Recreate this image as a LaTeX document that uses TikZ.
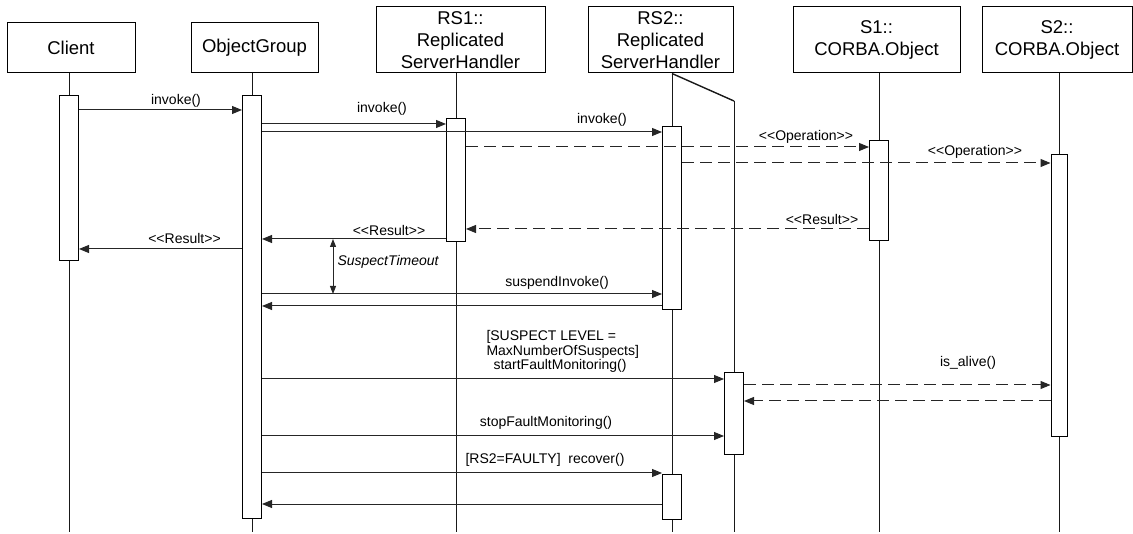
\documentclass[tikz,border=0pt]{standalone}
\usepackage{fontspec}
\setmainfont{Liberation Sans}
\usetikzlibrary{arrows.meta,backgrounds}

\newcommand{\stereo}[1]{<\kern0pt<#1>\kern0pt>}

\begin{document}
\begin{tikzpicture}[x=1pt,y=-1pt,line width=1pt,
			obj/.style={draw,rectangle,inner sep=0pt,align=center,font=\fontsize{18.5}{22}\selectfont},
			act/.style={draw,fill=white,rectangle,inner sep=0pt,minimum width=19pt},
			life/.style={draw=black!90},
			msg/.style={draw=black!85,-{Triangle[length=10pt,width=8pt]}},
			ret/.style={msg,dash pattern=on 12pt off 6pt},
			lbl/.style={inner sep=0pt,font=\fontsize{14}{14.5}\selectfont},
			dimarr/.style={draw=black!85,{Triangle[length=8pt,width=6pt]}-{Triangle[length=8pt,width=6pt]}}]
		\useasboundingbox (0,0) rectangle (1133,534);
		% objects
		\node[obj,minimum width=128pt,minimum height=50pt] (client) at (71,48) {Client};
		\node[obj,minimum width=127pt,minimum height=50pt] (og) at (254.5,48) {ObjectGroup};
		\node[obj,minimum width=169pt,minimum height=66pt] (rs1) at (460.5,40) {RS1::\\Replicated\\ServerHandler};
		\node[obj,minimum width=145pt,minimum height=66pt] (rs2) at (660.5,40) {RS2::\\Replicated\\ServerHandler};
		\node[obj,minimum width=167pt,minimum height=66pt] (s1) at (876.5,40) {S1::\\CORBA.Object};
		\node[obj,minimum width=150pt,minimum height=66pt] (s2) at (1057,40) {S2::\\CORBA.Object};
		% activations
		\node[act,minimum height=165pt] (cA) at (69,178.5) {};
		\node[act,minimum height=422pt] (ogA) at (252,307) {};
		\node[act,minimum height=123pt] (rs1A) at (456,180.5) {};
		\node[act,minimum height=183pt] (rs2A) at (672,218.5) {};
		\node[act,minimum height=100pt] (s1A) at (879,191) {};
		\node[act,minimum height=282pt,minimum width=16pt] (s2A) at (1059,296) {};
		\node[act,minimum height=82pt] (thA) at (734,414) {};
		\node[act,minimum height=44pt] (rs2B) at (672,497) {};
		\coordinate (bot) at (0,532);
		\coordinate (kink) at (0,101);
		% lifelines
		\begin{scope}[on background layer]
			\draw[life] (client.south -| cA) -- (cA |- bot);
			\draw[life] (og.south -| ogA) -- (ogA |- bot);
			\draw[life] (rs1.south -| rs1A) -- (rs1A |- bot);
			\draw[life] (rs2.south -| rs2A) -- (rs2A |- bot);
			\draw[life,line width=1.4pt] (rs2.south -| rs2A) -- (thA |- kink);
			\draw[life] (thA |- kink) -- (thA |- bot);
			\draw[life] (s1.south -| s1A) -- (s1A |- bot);
			\draw[life] (s2.south -| s2A) -- (s2A |- bot);
		\end{scope}
		% messages
		\draw[msg] (cA.east |- 0,110) -- (ogA.west |- 0,110);
		\node[lbl] (m1) at (176,101) {invoke()};
		\draw[msg] (ogA.east |- 0,124) -- (rs1A.west |- 0,124);
		\node[lbl] (m2) at (382,109) {invoke()};
		\draw[msg] (ogA.east |- 0,132) -- (rs2A.west |- 0,132);
		\node[lbl] (m3) at (602,120) {invoke()};
		\draw[ret] (rs1A.east |- 0,147) -- (s1A.west |- 0,147);
		\node[lbl] (m4) at (806,137) {\stereo{Operation}};
		\draw[ret] (rs2A.east |- 0,163) -- (s2A.west |- 0,163);
		\node[lbl] (m5) at (975,152) {\stereo{Operation}};
		\draw[ret] (s1A.west |- 0,229) -- (rs1A.east |- 0,229);
		\node[lbl] (m6) at (822,219) {\stereo{Result}};
		\draw[msg] (rs1A.west |- 0,239) -- (ogA.east |- 0,239);
		\node[lbl] (m7) at (389,230) {\stereo{Result}};
		\draw[msg] (ogA.west |- 0,249) -- (cA.east |- 0,249);
		\node[lbl] (m8) at (184.5,238.5) {\stereo{Result}};
		% timeout
		\coordinate (toA) at (333,239);
		\coordinate (toB) at (333,294);
		\draw[dimarr] (toA) -- (toB);
		\node[lbl,font=\fontsize{14}{14.5}\selectfont\itshape,anchor=west] (to) at (337,262) {SuspectTimeout};
		\draw[msg] (ogA.east |- 0,294) -- (rs2A.west |- 0,294);
		\node[lbl] (m9) at (557,283) {suspendInvoke()};
		\draw[msg] (rs2A.west |- 0,306) -- (ogA.east |- 0,306);
		% fault monitoring
		\draw[msg] (ogA.east |- 0,379) -- (thA.west |- 0,379);
		\node[lbl,align=left,anchor=west] (m10) at (486,351.5) {[SUSPECT LEVEL =\\MaxNumberOfSuspects]\\\hspace*{7pt}startFaultMonitoring()};
		\draw[ret] (thA.east |- 0,385) -- (s2A.west |- 0,385);
		\node[lbl] (m11) at (968,363) {is\_alive()};
		\draw[ret] (s2A.west |- 0,401) -- (thA.east |- 0,401);
		\draw[msg] (ogA.east |- 0,436) -- (thA.west |- 0,436);
		\node[lbl] (m12) at (546,423) {stopFaultMonitoring()};
		\draw[msg] (ogA.east |- 0,473) -- (rs2B.west |- 0,473);
		\node[lbl] (m13) at (545,460) {[RS2=FAULTY]\ \ recover()};
		\draw[msg] (rs2B.west |- 0,504) -- (ogA.east |- 0,504);
\end{tikzpicture}
\end{document}
